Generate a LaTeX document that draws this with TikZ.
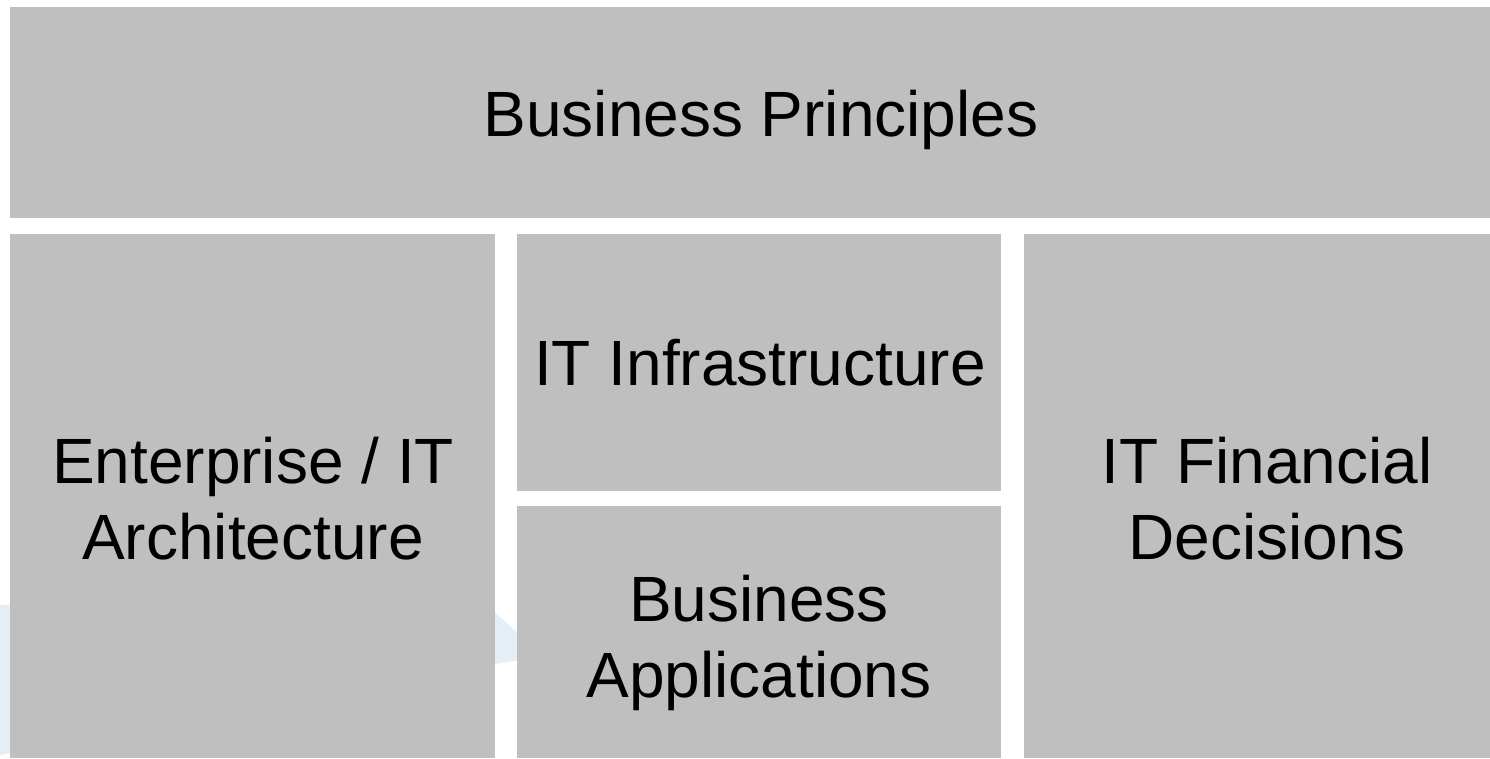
\documentclass[tikz,border=0pt]{standalone}
\usepackage{fontspec}
\setmainfont{Liberation Sans}
\definecolor{boxgray}{RGB}{191,191,191}
\definecolor{wmblue}{RGB}{228,238,247}
\tikzset{
  block/.style={fill=boxgray, draw=none, inner sep=0pt},
  lbl/.style={anchor=base, inner sep=0pt, align=center,
    font=\fontsize{64}{76}\selectfont, text=black}
}
\begin{document}
\begin{tikzpicture}[x=1pt,y=-1pt]
\useasboundingbox (0,0) rectangle (1490,758);
\fill[white] (0,0) rectangle (1490,758);
% faint watermark behind the boxes
\fill[wmblue] (0,605) -- (470,590) -- (520,635) -- (520,660) -- (495,664) -- (0,755) -- cycle;
% boxes
\node[block, minimum width=1480pt, minimum height=211pt] (bp) at (750,112.5) {};
\node[block, minimum width=485pt, minimum height=524pt] (ea) at (252.5,496) {};
\node[block, minimum width=484pt, minimum height=257pt] (iti) at (759,362.5) {};
\node[block, minimum width=484pt, minimum height=252pt] (ba) at (759,632) {};
\node[block, minimum width=466pt, minimum height=524pt] (itf) at (1257,496) {};
% labels (base anchor = baseline of the last line)
\node[lbl] (bpt) at (761,136) {Business Principles};
\node[lbl] (eat) at (253,559) {Enterprise / IT\\Architecture};
\node[lbl] (itit) at (760,385) {IT Infrastructure};
\node[lbl] (bat) at (759,697) {Business\\Applications};
\node[lbl] (itft) at (1267,559) {IT Financial\\Decisions};
\end{tikzpicture}
\end{document}
